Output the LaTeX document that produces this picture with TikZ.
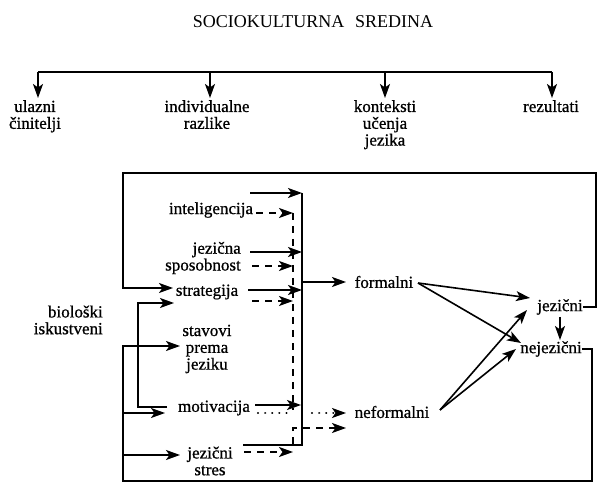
\documentclass[tikz,border=0pt]{standalone}
\usepackage{fontspec}
\setmainfont{Liberation Serif}
\newfontfamily\lblfont{Liberation Serif}[FakeBold=0.8]
\usetikzlibrary{arrows.meta}
\begin{document}
\begin{tikzpicture}[x=1pt,y=-1pt,
  lbl/.style={inner sep=0pt,align=center,font=\lblfont\fontsize{17}{16.8}\selectfont},
  ln/.style={line width=1.6pt},
  arr/.style={ln,-{Stealth[length=14pt,width=10pt,inset=3.5pt]}},
  dsh/.style={dash pattern=on 7pt off 6pt},
  dotl/.style={line cap=round,dash pattern=on 0.1pt off 7pt,line width=2.2pt}
]
\useasboundingbox (0,0) rectangle (598,484);
% title and top level
\node[inner sep=0pt,font=\fontsize{18}{20}\selectfont] (title) at (313,22) {SOCIOKULTURNA\hspace{0.6em}SREDINA};
\node[lbl,anchor=north] (ul) at (35,100) {ulazni\\činitelji};
\node[lbl,anchor=north] (ind) at (207,100) {individualne\\razlike};
\node[lbl,anchor=north] (kon) at (385,100) {konteksti\\učenja\\jezika};
\node[lbl,anchor=north] (rez) at (551,100) {rezultati};
\coordinate (b1) at (38,72);
\coordinate (b2) at (210,72);
\coordinate (b3) at (385,72);
\coordinate (b4) at (552,72);
\draw[ln] (b1) -- (b4);
\draw[arr] (b1) -- ([yshift=2pt]b1 |- ul.north);
\draw[arr] (b2) -- ([yshift=2pt]b2 |- ind.north);
\draw[arr] (b3) -- ([yshift=2pt]b3 |- kon.north);
\draw[arr] (b4) -- ([yshift=2pt]b4 |- rez.north);
% factor nodes
\node[lbl] (int) at (211,210) {inteligencija};
\node[lbl,align=right,anchor=east] (jsp) at (241,258) {jezična\\sposobnost};
\node[lbl] (str) at (207,292) {strategija};
\node[lbl] (stav) at (207,349) {stavovi\\prema\\jeziku};
\node[lbl] (mot) at (214,408) {motivacija};
\node[lbl] (jst) at (210,461) {jezični\\stres};
\node[lbl,align=right,anchor=east] (bio) at (103,320) {biološki\\iskustveni};
\node[lbl] (form) at (384,282) {formalni};
\node[lbl] (neform) at (392,412) {neformalni};
\node[lbl] (jez) at (560,307) {jezični};
\node[lbl] (nejez) at (551,349) {nejezični};
% solid collector
\coordinate (cT) at (302,193);
\coordinate (cB) at (302,445);
\coordinate (cBL) at (243,445);
\draw[ln] (cT) -- (cB) -- (cBL);
\coordinate (s0) at (250,193);
\coordinate (s1) at (250,252);
\coordinate (s1e) at (302,252);
\coordinate (s2) at (248,290);
\coordinate (s2e) at (302,290);
\coordinate (s3) at (255,405);
\coordinate (s3e) at (301,405);
\draw[arr] (s0) -- (cT);
\draw[arr] (s1) -- (s1e);
\draw[arr] (s2) -- (s2e);
\draw[arr] (s3) -- (s3e);
% dashed collector
\coordinate (dT) at (293,213);
\coordinate (dB) at (293,410);
\draw[ln,dsh] (dT) -- (dB);
\coordinate (d0) at (256,213);
\coordinate (d1) at (252,266);
\coordinate (d1e) at (293,266);
\coordinate (d2) at (252,301);
\coordinate (d2e) at (293,301);
\coordinate (d3) at (244,452);
\coordinate (d3e) at (293,452);
\draw[arr,dsh] (d0) -- (dT);
\draw[arr,dsh] (d1) -- (d1e);
\draw[arr,dsh] (d2) -- (d2e);
\draw[arr,dsh] (d3) -- (d3e);
\coordinate (dL) at (293,444);
\coordinate (dC) at (293,428);
\coordinate (dE) at (346,428);
\draw[arr,dsh] (dL) -- (dC) -- (dE);
% formalni / neformalni inputs
\coordinate (fS) at (303,282);
\coordinate (fE) at (346,282);
\draw[arr] (fS) -- (fE);
\coordinate (m0) at (258,413);
\coordinate (m1) at (290,413);
\coordinate (m2) at (312,413);
\coordinate (m3) at (346,413);
\draw[dotl] (m0) -- (m1);
\draw[dotl] (m2) -- ([xshift=-12pt]m3);
\draw[arr] ([xshift=-10pt]m3) -- (m3);
% outcomes
\coordinate (fo) at (418,283);
\coordinate (nf) at (440,410);
\coordinate (jzT) at (530,298);
\coordinate (jzB) at (527,310);
\coordinate (njT) at (521,343);
\coordinate (njB) at (516,349);
\draw[arr] (fo) -- (jzT);
\draw[arr] (fo) -- (njT);
\draw[arr] (nf) -- (jzB);
\draw[arr] (nf) -- (njB);
\coordinate (jd0) at (560,317);
\coordinate (jd1) at (560,340);
\draw[arr] (jd0) -- (jd1);
% top feedback loop
\coordinate (l1) at (596,307);
\coordinate (l2) at (596,173);
\coordinate (l3) at (123,173);
\coordinate (l4) at (123,288);
\coordinate (l5) at (173,288);
\draw[arr] (jez.east) -- (l1) -- (l2) -- (l3) -- (l4) -- (l5);
% motivacija -> strategija
\coordinate (k1) at (167,407);
\coordinate (k2) at (138,407);
\coordinate (k3) at (138,303);
\coordinate (k4) at (174,303);
\draw[arr] (k1) -- (k2) -- (k3) -- (k4);
% bottom feedback loop
\coordinate (r1) at (592,349);
\coordinate (r2) at (592,481);
\coordinate (r3) at (123,481);
\coordinate (r4) at (123,346);
\coordinate (r5) at (180,346);
\draw[arr] (nejez.east) -- (r1) -- (r2) -- (r3) -- (r4) -- (r5);
\coordinate (q1) at (123,413);
\coordinate (q1e) at (165,413);
\coordinate (q2) at (123,455);
\coordinate (q2e) at (180,455);
\draw[arr] (q1) -- (q1e);
\draw[arr] (q2) -- (q2e);
\end{tikzpicture}
\end{document}
